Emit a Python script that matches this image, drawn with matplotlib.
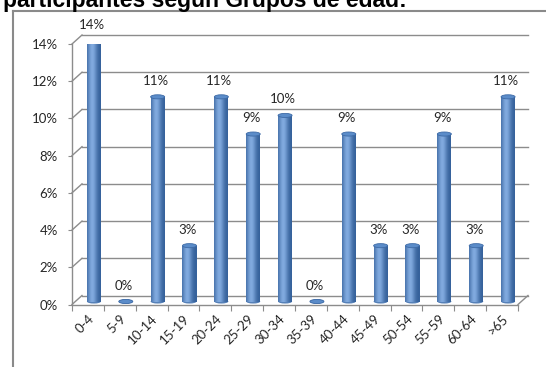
import matplotlib
matplotlib.use("Agg")
import matplotlib.pyplot as plt
import matplotlib.transforms as mtransforms
from matplotlib.patches import Ellipse
from matplotlib.lines import Line2D
import numpy as np

categories = ["0-4", "5-9", "10-14", "15-19", "20-24", "25-29", "30-34",
              "35-39", "40-44", "45-49", "50-54", "55-59", "60-64", ">65"]
values = [14, 0, 11, 3, 11, 9, 10, 0, 9, 3, 3, 9, 3, 11]  # percent
y_ticks = [0, 2, 4, 6, 8, 10, 12, 14]
title = "participantes según Grupos de edad:"

W, H = 546, 367
fig = plt.figure(figsize=(W / 100, H / 100), dpi=100)
plt.rcParams['font.family'] = ['Lato', 'DejaVu Sans']

# axes = front plane of the 3D-like chart
x0, x1 = 72, 518
y0, y1 = 304.5, 44
ax = fig.add_axes([x0 / W, (H - y0) / H, (x1 - x0) / W, (y0 - y1) / H])
n = len(categories)
ax.set_xlim(0, n)
ax.set_ylim(0, 14)
for s in ax.spines.values():
    s.set_visible(False)
ax.patch.set_alpha(0)

grid_c = "#8c8c8c"
text_c = "#262626"
back = mtransforms.offset_copy(ax.transData, fig=fig, x=10, y=9, units='dots')
mid = mtransforms.offset_copy(ax.transData, fig=fig, x=6, y=3, units='dots')

# back wall gridlines
for t in y_ticks:
    ax.plot([0, n], [t, t], color=grid_c, lw=1.0, transform=back, clip_on=False, zorder=1)
# diagonals from front-left to back-left for each level
for t in y_ticks:
    p_front = ax.transData.transform((0, t))
    p_back = back.transform((0, t))
    fig.add_artist(Line2D([p_front[0] / W, p_back[0] / W], [p_front[1] / H, p_back[1] / H],
                          color=grid_c, lw=1.0, transform=fig.transFigure, zorder=1))
# floor: front edge, right diagonal
ax.plot([0, n], [0, 0], color=grid_c, lw=1.0, clip_on=False, zorder=1)
pf = ax.transData.transform((n, 0)); pb = back.transform((n, 0))
fig.add_artist(Line2D([pf[0] / W, pb[0] / W], [pf[1] / H, pb[1] / H],
                      color=grid_c, lw=1.0, transform=fig.transFigure, zorder=1))
# front left axis line
ax.plot([0, 0], [0, 14], color=grid_c, lw=1.0, clip_on=False, zorder=1)

# cylinders
centers = np.arange(n) + 0.5
bw = 0.44
nstripe = 14
shades = []
for k in range(nstripe):
    u = (k + 0.5) / nstripe
    b = np.exp(-((u - 0.38) / 0.34) ** 2)
    dark = np.array([0x32, 0x5e, 0x98]) / 255
    light = np.array([0x80, 0xa9, 0xde]) / 255
    shades.append(tuple(dark + (light - dark) * b))
sw = bw / nstripe
for k in range(nstripe):
    off = -bw / 2 + (k + 0.5) * sw
    bars = ax.bar(centers + off, values, width=sw * 1.02, color=shades[k],
                  linewidth=0, zorder=3)
    for b in bars:
        b.set_transform(mid)
eh = 0.22
for c, v in zip(centers, values):
    bottom = Ellipse((c, 0), bw, eh, transform=mid, facecolor=shades[nstripe // 2 + 2],
                     edgecolor='none', zorder=2.9)
    ax.add_patch(bottom)
    top = Ellipse((c, v), bw, eh, transform=mid, facecolor="#5b8cc9",
                  edgecolor="#3d6aa6", lw=0.6, zorder=4)
    ax.add_patch(top)
    ax.annotate(f"{v}%", (c, v), xytext=(4, 19), textcoords='offset pixels',
                ha='center', va='center', fontsize=9.5, color=text_c, zorder=5)

# ticks
ax.set_yticks(y_ticks, [f"{t}%" for t in y_ticks])
ax.tick_params(axis='y', length=3, width=0.8, color=grid_c, pad=7,
               labelsize=9.5, labelcolor=text_c)
ax.set_xticks(np.arange(n + 1), [""] * (n + 1))
ax.tick_params(axis='x', which='major', length=4, width=0.8, color=grid_c)
ax.set_xticks(centers, categories, minor=True)
ax.tick_params(axis='x', which='minor', length=0, pad=6, labelsize=9.5, labelcolor=text_c)
for lab in ax.get_xticklabels(minor=True):
    lab.set_rotation(45)
    lab.set_ha('right')
    lab.set_va('top')
    lab.set_rotation_mode('anchor')

# outer chart frame
frame_c = "#8a8a8a"
fig.add_artist(Line2D([13 / W, 13 / W], [0, 1 - 10.5 / H], color=frame_c, lw=1.5,
                      transform=fig.transFigure))
fig.add_artist(Line2D([13 / W, 1], [1 - 10.5 / H, 1 - 10.5 / H], color=frame_c, lw=1.5,
                      transform=fig.transFigure))

# title (cropped at top as in the source image)
fig.text(3 / W, 1 - 6.5 / H, title, fontsize=16.5, fontweight='bold',
         family=['Liberation Sans', 'DejaVu Sans'], va='baseline', ha='left', color='black')

fig.savefig("out.png", dpi=100)
